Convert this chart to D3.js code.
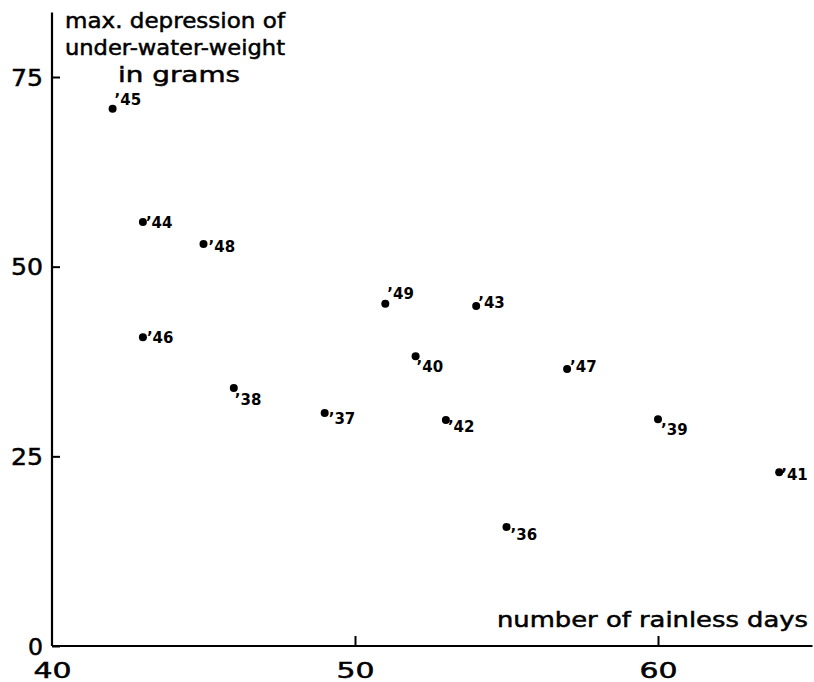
<!DOCTYPE html>
<html>
<head>
<meta charset="utf-8">
<script src="https://cdn.jsdelivr.net/npm/d3@7"></script>
<style>
  html, body { margin: 0; padding: 0; background: #fff; }
  svg { display: block; }
  text { font-family: "DejaVu Sans", sans-serif; fill: #000; }
</style>
</head>
<body>
<svg id="chart" width="814" height="682"></svg>
<script>
// ---- data ----
const years = ["45", "44", "48", "46", "38", "37", "49", "43", "40", "42", "47", "39", "41", "36"];
const rainlessDays = [42, 43, 45, 43, 46, 49, 51, 54, 52, 53, 57, 60, 64, 55];
const maxDepression = [70.8, 55.9, 53.0, 40.7, 34.0, 30.7, 45.1, 44.8, 38.2, 29.8, 36.5, 29.9, 22.9, 15.7];
const xTicks = [40, 50, 60];
const yTicks = [0, 25, 50, 75];
const yTitleLines = ["max. depression of", "under-water-weight", "in grams"];
const xTitle = "number of rainless days";

// ---- layout ----
const svg = d3.select("#chart");
const x = d3.scaleLinear().domain([40, 60]).range([52, 658]);
const y = d3.scaleLinear().domain([0, 75]).range([646, 77]);

// label nudges (digit start dx, baseline dy) per year label
const nudge = {
  "45": [6, -4], "44": [7, 6], "48": [9, 8], "46": [8, 6], "38": [5, 17],
  "49": [6, -5], "43": [6, 2], "40": [5, 16], "37": [8, 11], "42": [6, 12],
  "47": [7, 3], "39": [7, 16], "41": [6, 8], "36": [8, 13]
};

// axis lines
svg.append("line")
  .attr("x1", x(40)).attr("x2", x(40))
  .attr("y1", y(0)).attr("y2", y(83.5))
  .attr("stroke", "#000").attr("stroke-width", 2.2);
svg.append("line")
  .attr("x1", x(40)).attr("x2", x(65.1))
  .attr("y1", y(0)).attr("y2", y(0))
  .attr("stroke", "#000").attr("stroke-width", 2.2);

// y axis
const gy = svg.append("g")
  .attr("transform", `translate(${x(40)},0)`)
  .call(d3.axisLeft(y).tickValues(yTicks).tickSize(-8).tickPadding(9).tickFormat(d3.format("d")));
gy.select(".domain").remove();
gy.selectAll(".tick line").attr("stroke", "#000").attr("stroke-width", 2);
gy.selectAll(".tick text")
  .attr("font-family", "DejaVu Sans, sans-serif")
  .attr("font-size", 23)
  .attr("fill", "#000")
  .attr("stroke", "#000").attr("stroke-width", 0.5)
  .attr("dy", "0.36em")
  .attr("textLength", d => d === 0 ? 15 : 32)
  .attr("lengthAdjust", "spacingAndGlyphs");

// x axis
const gx = svg.append("g")
  .attr("transform", `translate(0,${y(0)})`)
  .call(d3.axisBottom(x).tickValues(xTicks).tickSize(-10).tickPadding(17).tickFormat(d3.format("d")));
gx.select(".domain").remove();
gx.selectAll(".tick line").attr("stroke", "#000").attr("stroke-width", 2)
  .attr("display", d => d === 40 ? "none" : null);
gx.selectAll(".tick text")
  .attr("font-family", "DejaVu Sans, sans-serif")
  .attr("font-size", 21)
  .attr("fill", "#000")
  .attr("stroke", "#000").attr("stroke-width", 0.5)
  .attr("dy", "0.71em")
  .attr("textLength", 38)
  .attr("lengthAdjust", "spacingAndGlyphs");

// y title
const titleX = [65, 65, 118];
const titleW = [220, 220, 122];
const titleBase = [28, 55, 82];
svg.selectAll("text.ytitle")
  .data(yTitleLines)
  .join("text")
  .attr("class", "ytitle")
  .attr("x", (d, i) => titleX[i])
  .attr("y", (d, i) => titleBase[i])
  .attr("font-size", 21)
  .attr("stroke", "#000").attr("stroke-width", 0.5)
  .attr("textLength", (d, i) => titleW[i])
  .attr("lengthAdjust", "spacingAndGlyphs")
  .text(d => d);

// x title
svg.append("text")
  .attr("x", 497).attr("y", 627)
  .attr("font-size", 21)
  .attr("stroke", "#000").attr("stroke-width", 0.5)
  .attr("textLength", 311)
  .attr("lengthAdjust", "spacingAndGlyphs")
  .text(xTitle);

// points
const pts = years.map((yr, i) => ({ yr, xv: rainlessDays[i], yv: maxDepression[i] }));
svg.selectAll("circle.pt")
  .data(pts)
  .join("circle")
  .attr("class", "pt")
  .attr("cx", d => x(d.xv))
  .attr("cy", d => y(d.yv))
  .attr("r", 4)
  .attr("fill", "#000");

svg.selectAll("text.lbl")
  .data(pts)
  .join("text")
  .attr("class", "lbl")
  .attr("x", d => x(d.xv) + nudge[d.yr][0] - 4)
  .attr("y", d => y(d.yv) + nudge[d.yr][1])
  .attr("font-size", 15)
  .attr("font-weight", "bold")
  .text(d => "\u2019" + d.yr);
</script>
</body>
</html>
